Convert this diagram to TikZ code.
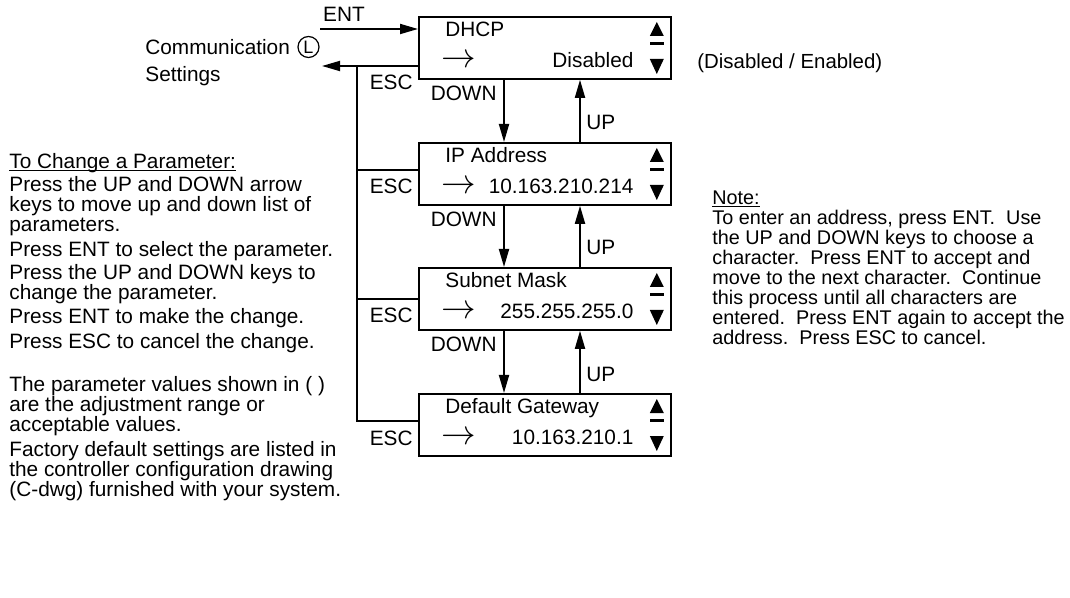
\documentclass[tikz,border=0pt]{standalone}
\usepackage{fontspec}
\setmainfont{Liberation Sans}
\usetikzlibrary{arrows.meta,positioning,calc}
\newcommand\headline[1]{\setbox0\hbox{#1}\rlap{\rule[-1.6pt]{\wd0}{0.6pt}}\box0}
\tikzset{
 menu/.style={draw,line width=0.9pt,minimum width=126pt,minimum height=31pt,inner sep=0pt,anchor=north west},
 txt/.style={font=\fontsize{10.4}{10}\selectfont,inner sep=0pt},
 para/.style={txt,align=left,anchor=north west},
 ln/.style={line width=0.9pt},
 arr/.style={ln,-{Triangle[length=9pt,width=5pt]}},
 keylbl/.style={txt,anchor=base east},
 uplbl/.style={txt,anchor=base west}
}

\begin{document}
\begin{tikzpicture}[x=0.5pt,y=-0.5pt]
\useasboundingbox (0,0) rectangle (1070,598);

% where the menu is entered from
\node[txt,anchor=base west] (comm) at (145,55) {Communication};
\node[txt,anchor=base west] (sett) at (145,82) {Settings};
\node[draw,circle,line width=0.6pt,minimum size=10.5pt,inner sep=0pt,font=\fontsize{9}{9}\selectfont] (lkey) at (308.5,47) {L};
\coordinate (entin) at (320,29);
\coordinate (escout) at (322,66);
\coordinate (bus) at (357,66);
\coordinate (ipesc) at (357,170);
\coordinate (maskesc) at (357,299);
\coordinate (gwesc) at (357,421);

% menu boxes
\node[menu] (dhcp) at (418,16) {};
\node[menu] (ip) at (418,142) {};
\node[menu] (mask) at (418,267) {};
\node[menu] (gw) at (418,393) {};

\foreach \b/\t/\v in {dhcp/DHCP/Disabled,ip/IP Address/10.163.210.214,mask/Subnet Mask/255.255.255.0,gw/Default Gateway/10.163.210.1}{
 \node[txt,anchor=base west] (\b-t) at ([shift={(13.5pt,-10.5pt)}]\b.north west) {\t};
 \node[inner sep=0pt,anchor=base west,font=\fontsize{17}{17}\selectfont] (\b-a) at ([shift={(11.7pt,-25.7pt)}]\b.north west) {\smash{$\rightarrow$}};
 \node[txt,anchor=base east] (\b-v) at ([shift={(-19pt,-25.8pt)}]\b.north east) {\v};
 \fill ([shift={(-7.5pt,-3pt)}]\b.north east) -- ++(3.5pt,-7pt) -- ++(-7pt,0pt) -- cycle;
 \fill ([shift={(-11pt,-12.8pt)}]\b.north east) rectangle ++(7pt,-1.5pt);
 \fill ([shift={(-7.5pt,-29pt)}]\b.north east) -- ++(3.5pt,7.5pt) -- ++(-7pt,0pt) -- cycle;
}

% ENT and ESC
\draw[arr] (entin) -- (entin -| dhcp.west);
\node[txt,anchor=base] (ent) at (344,22) {ENT};
\draw[arr] (escout -| dhcp.west) -- (escout);
\draw[ln] (bus) -- (gwesc) -- (gwesc -| gw.west);
\draw[ln] (ipesc) -- (ipesc -| ip.west);
\draw[ln] (maskesc) -- (maskesc -| mask.west);
\node[keylbl] (esc1) at ($(escout -| dhcp.west)+(-2.5pt,-12pt)$) {ESC};
\node[keylbl] (esc2) at ($(ipesc -| ip.west)+(-2.5pt,-12pt)$) {ESC};
\node[keylbl] (esc3) at ($(maskesc -| mask.west)+(-2.5pt,-12pt)$) {ESC};
\node[keylbl] (esc4) at ($(gwesc -| gw.west)+(-2.5pt,-12pt)$) {ESC};

% UP / DOWN
\foreach \a/\c in {dhcp/ip,ip/mask,mask/gw}{
 \draw[arr] ([xshift=43pt]\a.south west) -- ([xshift=43pt]\c.north west);
 \draw[arr] ([xshift=81pt]\c.north west) -- ([xshift=81pt]\a.south west);
 \node[keylbl] (\a-down) at ([shift={(39.5pt,-10.5pt)}]\a.south west) {DOWN};
 \node[uplbl] (\c-up) at ([shift={(84pt,6pt)}]\c.north west) {UP};
}

\node[txt,anchor=base west,font=\fontsize{10.2}{10}\selectfont] (range) at (697,69) {(Disabled / Enabled)};

% side notes
\node[para] (howto) at (9,152.6) {\headline{To Change a Parameter:}\\[1.5pt]
Press the UP and DOWN arrow\\
keys to move up and down list of\\
parameters.\\[2.5pt]
Press ENT to select the parameter.\\[1.8pt]
Press the UP and DOWN keys to\\
change the parameter.\\[2pt]
Press ENT to make the change.\\[2.5pt]
Press ESC to cancel the change.\\[11.5pt]
The parameter values shown in ( )\\
are the adjustment range or\\
acceptable values.\\[2.5pt]
Factory default settings are listed in\\
the controller configuration drawing\\
(C-dwg) furnished with your system.};

\node[para,font=\fontsize{9.9}{10}\selectfont] (note) at (712,190) {\headline{Note:}\\
To enter an address, press ENT.\ \ Use\\
the UP and DOWN keys to choose a\\
character.\ \ Press ENT to accept and\\
move to the next character.\ \ Continue\\
this process until all characters are\\
entered.\ \ Press ENT again to accept the\\
address.\ \ Press ESC to cancel.};
\end{tikzpicture}
\end{document}
